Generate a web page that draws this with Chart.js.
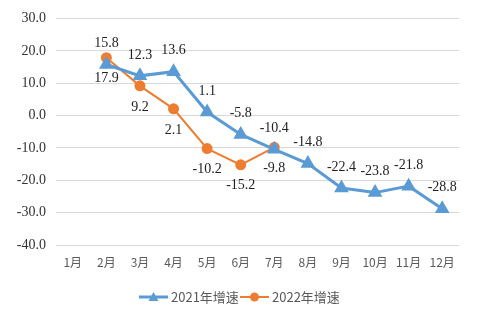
<!DOCTYPE html>
<html>
<head>
<meta charset="utf-8">
<script src="https://cdn.jsdelivr.net/npm/chart.js@4/dist/chart.umd.min.js"></script>
<style>
  html, body { margin: 0; padding: 0; background: #fff; }
  #wrap { width: 480px; height: 327px; }
</style>
</head>
<body>
<div id="wrap"><canvas id="chart"></canvas></div>
<script>
const months = ['1月', '2月', '3月', '4月', '5月', '6月', '7月', '8月', '9月', '10月', '11月', '12月'];
const growth2021 = [null, 15.8, 12.3, 13.6, 1.1, -5.8, -10.4, -14.8, -22.4, -23.8, -21.8, -28.8];
const growth2022 = [null, 17.9, 9.2, 2.1, -10.2, -15.2, -9.8, null, null, null, null, null];
const seriesNames = ['2021年增速', '2022年增速'];
const yTicks = { min: -40, max: 30, step: 10 };

const BLUE = '#5b9bd5';
const ORANGE = '#ed7d31';
const SERIF = '"Liberation Serif", "Times New Roman", serif';
const SANS = '"Noto Sans CJK SC", "Noto Sans", sans-serif';

// value labels: blue above the point, orange below
const valueLabels = {
    id: 'valueLabels',
    afterDatasetsDraw(chart) {
        const c = chart.ctx;
        c.save();
        c.font = '14px ' + SERIF;
        c.fillStyle = '#222';
        c.textAlign = 'center';
        c.textBaseline = 'middle';
        chart.data.datasets.forEach((ds, i) => {
            const meta = chart.getDatasetMeta(i);
            meta.data.forEach((pt, j) => {
                const v = ds.data[j];
                if (v === null) return;
                const dy = i === 0 ? -21 : 21;
                c.fillText(v.toFixed(1), pt.x, pt.y + dy);
            });
        });
        c.restore();
    }
};

// legend with line + marker, centred under the plot
const lineLegend = {
    id: 'lineLegend',
    afterDraw(chart) {
        const c = chart.ctx;
        const y = 297;
        const items = [
            { x: 139, color: BLUE, shape: 'triangle', text: seriesNames[0], lw: 3 },
            { x: 240, color: ORANGE, shape: 'circle', text: seriesNames[1], lw: 2 }
        ];
        c.save();
        items.forEach(it => {
            c.strokeStyle = it.color;
            c.fillStyle = it.color;
            c.lineWidth = it.lw;
            c.beginPath();
            c.moveTo(it.x, y);
            c.lineTo(it.x + 29, y);
            c.stroke();
            const mx = it.x + 14.5;
            c.beginPath();
            if (it.shape === 'circle') {
                c.arc(mx, y, 4.5, 0, Math.PI * 2);
            } else {
                c.moveTo(mx, y - 5);
                c.lineTo(mx + 5, y + 4);
                c.lineTo(mx - 5, y + 4);
                c.closePath();
            }
            c.fill();
            c.fillStyle = '#595959';
            c.font = '13px ' + SANS;
            c.textAlign = 'left';
            c.textBaseline = 'middle';
            c.fillText(it.text, it.x + 32, y);
        });
        c.restore();
    }
};

new Chart(document.getElementById('chart'), {
    type: 'line',
    data: {
        labels: months,
        datasets: [{
            label: seriesNames[0],
            data: growth2021,
            borderColor: BLUE,
            backgroundColor: BLUE,
            borderWidth: 3,
            pointStyle: 'triangle',
            pointRadius: 5.5,
            tension: 0
        }, {
            label: seriesNames[1],
            data: growth2022,
            borderColor: ORANGE,
            backgroundColor: ORANGE,
            borderWidth: 2,
            pointStyle: 'circle',
            pointRadius: 4.5,
            tension: 0
        }]
    },
    options: {
        responsive: true,
        maintainAspectRatio: false,
        animation: false,
        layout: { padding: { top: 18.6, right: 21, bottom: 52, left: 0 } },
        scales: {
            x: {
                offset: true,
                grid: { display: false },
                border: { display: false },
                ticks: { color: '#595959', font: { family: SANS, size: 12 }, padding: 2, maxRotation: 0 },
                afterFit(s) { s.height = 30; }
            },
            y: {
                min: yTicks.min,
                max: yTicks.max,
                ticks: {
                    stepSize: yTicks.step,
                    color: '#333',
                    font: { family: SERIF, size: 14 },
                    padding: 10,
                    callback: v => v.toFixed(1)
                },
                grid: { color: '#d9d9d9', lineWidth: 1, drawTicks: false },
                border: { display: false },
                afterFit(s) { s.width = 56; }
            }
        },
        plugins: {
            legend: { display: false },
            tooltip: { enabled: false }
        }
    },
    plugins: [valueLabels, lineLegend]
});
</script>
</body>
</html>
